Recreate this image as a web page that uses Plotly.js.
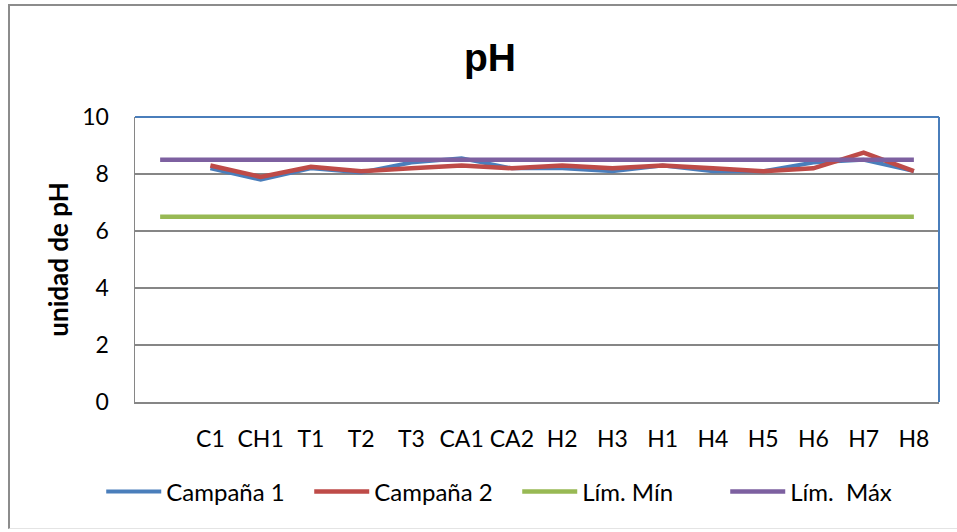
<!DOCTYPE html>
<html>
<head>
<meta charset="utf-8">
<script src="https://cdn.plot.ly/plotly-3.0.1.min.js"></script>
<style>
  html, body { margin: 0; padding: 0; background: #fff; }
  #frame { position: absolute; left: 8px; top: 4px; width: 960px; height: 525px;
           border-left: 2px solid #8c8c8c; border-top: 2px solid #8c8c8c;
           border-bottom: 1px solid #e4e4e4; box-sizing: border-box; pointer-events: none; }
  #chart { width: 957px; height: 532px; }
</style>
</head>
<body>
<div id="chart"></div>
<div id="frame"></div>
<script>
// Sampling points (first slot is an unlabeled position that only the limit lines cover)
const blankSlot = ' ';
const stations = ['C1', 'CH1', 'T1', 'T2', 'T3', 'CA1', 'CA2', 'H2', 'H3', 'H1', 'H4', 'H5', 'H6', 'H7', 'H8'];
const allSlots = [blankSlot].concat(stations);

// pH per campaign
const campana1 = [8.2, 7.8, 8.2, 8.05, 8.4, 8.55, 8.2, 8.2, 8.1, 8.3, 8.1, 8.1, 8.4, 8.5, 8.1];
const campana2 = [8.3, 7.9, 8.25, 8.1, 8.2, 8.3, 8.2, 8.3, 8.2, 8.3, 8.2, 8.1, 8.2, 8.75, 8.1];

// Regulatory limits
const limMin = allSlots.map(() => 6.5);
const limMax = allSlots.map(() => 8.5);

const yTicks = [0, 2, 4, 6, 8, 10];

const txtFont = { family: 'Lato, Calibri, sans-serif', size: 23, color: '#000' };
const legFont = { family: 'Lato, Calibri, sans-serif', size: 24, color: '#000' };

const traces = [
  { name: 'Campaña 1', x: stations, y: campana1, type: 'scatter', mode: 'lines',
    line: { color: '#4a7ebb', width: 4 } },
  { name: 'Campaña 2', x: stations, y: campana2, type: 'scatter', mode: 'lines',
    line: { color: '#be4b48', width: 4.5 } },
  { name: 'Lím. Mín', x: allSlots, y: limMin, type: 'scatter', mode: 'lines',
    line: { color: '#98b954', width: 4.5 } },
  { name: 'Lím.  Máx', x: allSlots, y: limMax, type: 'scatter', mode: 'lines',
    line: { color: '#7d60a0', width: 4.5 } }
];

const layout = {
  width: 957, height: 532,
  margin: { l: 135, r: 18, t: 117, b: 130 },
  paper_bgcolor: '#fff', plot_bgcolor: '#fff',
  font: txtFont,
  showlegend: true,
  title: {
    text: '<b>pH</b>',
    font: { family: 'Liberation Sans, Arial, sans-serif', size: 39, color: '#000' },
    x: 490 / 957, xref: 'container', xanchor: 'center',
    y: (532 - 57) / 532, yref: 'container', yanchor: 'middle'
  },
  xaxis: {
    type: 'category',
    categoryorder: 'array', categoryarray: allSlots,
    range: [-0.5, allSlots.length - 0.5],
    showgrid: false, zeroline: false,
    showline: true, linecolor: '#868686', linewidth: 1.5,
    ticks: '', ticklabelstandoff: 16,
    tickfont: txtFont, fixedrange: true,
    automargin: false
  },
  yaxis: {
    range: [0, 10],
    tickvals: yTicks,
    showgrid: true, gridcolor: '#868686', gridwidth: 1.2,
    zeroline: false,
    showline: true, linecolor: '#868686', linewidth: 1.5,
    ticks: '', ticklabelstandoff: 20,
    tickfont: txtFont,
    title: { text: '<b>unidad de pH</b>',
             font: { family: 'Lato, Calibri, sans-serif', size: 26, color: '#000' },
             standoff: 6 },
    fixedrange: true,
    automargin: false
  },
  legend: {
    orientation: 'h',
    x: -0.042, xanchor: 'left',
    y: -0.315, yanchor: 'middle',
    font: legFont,
    itemwidth: 55,
    entrywidth: 138, entrywidthmode: 'pixels',
    bgcolor: 'rgba(0,0,0,0)',
    traceorder: 'normal'
  },
  shapes: [
    // blue top and right edges of the plotting area
    { type: 'line', xref: 'paper', yref: 'paper', x0: 0, x1: 1, y0: 1, y1: 1,
      line: { color: '#4a7ebb', width: 2 } },
    { type: 'line', xref: 'paper', yref: 'paper', x0: 1, x1: 1, y0: 0, y1: 1,
      line: { color: '#4a7ebb', width: 2 } }
  ]
};

Plotly.newPlot('chart', traces, layout, { displayModeBar: false, staticPlot: true });
</script>
</body>
</html>
